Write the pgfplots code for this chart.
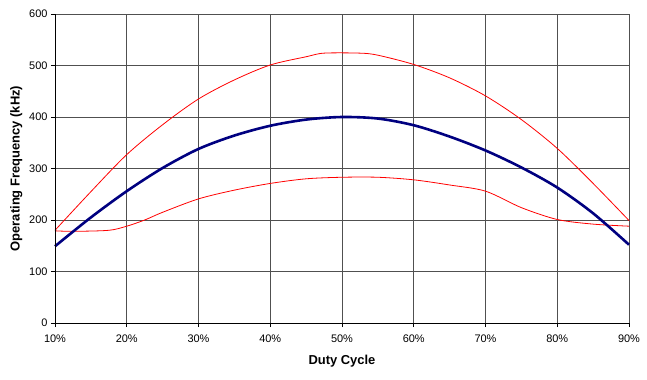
\documentclass[border=0pt]{standalone}
\usepackage{fontspec}
\setmainfont{Liberation Sans}
\usepackage{pgfplots}
\pgfplotsset{compat=1.18}
\definecolor{navyline}{RGB}{0,0,128}
\definecolor{gridc}{RGB}{80,80,80}
\begin{document}
\begin{tikzpicture}
\path[use as bounding box] (-55bp,-57bp) rectangle (592bp,323bp);
\begin{axis}[
  at={(0,0)}, anchor=south west,
  scale only axis, width=574bp, height=309bp,
  xmin=10, xmax=90, ymin=0, ymax=600,
  xtick={10,20,...,90}, ytick={0,100,...,600},
  xticklabel={\pgfmathprintnumber{\tick}\%},
  /pgf/number format/assume math mode=true,
  tick label style={font=\fontsize{11}{13}\selectfont},
  xticklabel style={yshift=-4bp},
  grid=major,
  major grid style={gridc, line width=0.8bp},
  axis line style={draw=none},
  tick align=outside,
  tick style={black, line width=0.8bp},
  major tick length=4bp,
  xtick pos=bottom, ytick pos=left,
  xlabel={\bfseries Duty Cycle},
  ylabel={\bfseries Operating Frequency (kHz)},
  label style={font=\fontsize{13}{15}\selectfont\bfseries},
  xlabel style={yshift=-6bp},
  clip=false,
]
\draw[gridc, line width=0.8bp] (axis cs:10,600) -- (axis cs:90,600) -- (axis cs:90,0);
\addplot[red, line width=0.8bp, smooth, tension=0.5] coordinates {
(10,180)(15,255)(20,327)(25,385)(30,435)(35,472)(40,501)(45,517)(47.5,524)(52.5,524)(55,520)(60,502)(65,476)(70,441)(75,395)(80,339)(85,271)(90,199)};
\addplot[red, line width=0.8bp, smooth, tension=0.5] coordinates {
(10,179)(12.5,178)(17.5,180)(20,188)(22.5,200)(25,215)(30,241)(35,258)(40,271)(45,280)(50,283)(55,283)(60,278)(65,268)(70,256)(75,224)(80,201)(85,192)(90,188)};
\addplot[navyline, line width=2.6bp, smooth, tension=0.5] coordinates {
(10,149)(15,205)(20,256)(25,301)(30,338)(35,364)(40,383)(45,395)(50,400)(55,397)(60,384)(65,362)(70,335)(75,302)(80,263)(85,213)(90,152)};
\draw[black, line width=0.8bp] (axis cs:10,600) -- (axis cs:10,0) -- (axis cs:90,0);
\end{axis}
\end{tikzpicture}
\end{document}
